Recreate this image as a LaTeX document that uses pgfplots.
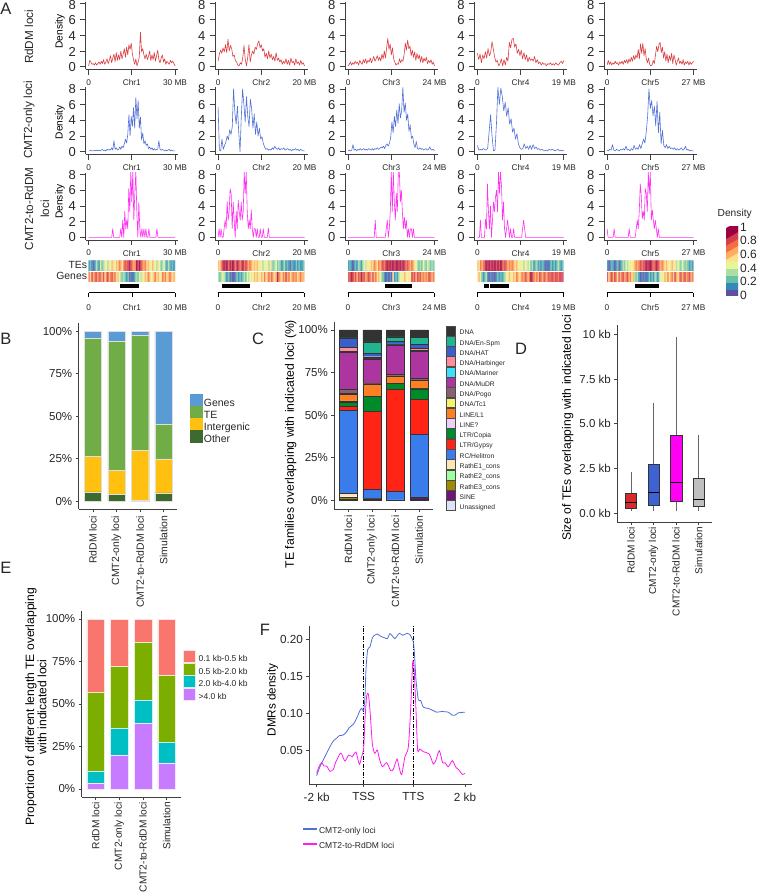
\documentclass[border=0pt]{standalone}
\usepackage{fontspec}
\setmainfont{Liberation Sans}
\usepackage{pgfplots}
\usepackage{pgfplotstable}
\pgfplotsset{compat=1.18}
\usepgfplotslibrary{statistics}

\newcommand\fs[1]{\fontsize{#1}{#1}\selectfont}
\definecolor{tx}{HTML}{262626}
\definecolor{rdm}{HTML}{D62A2F}
\definecolor{cmt}{HTML}{3F62D2}
\definecolor{mag}{HTML}{FF1CF0}
\definecolor{magb}{HTML}{FF00F4}
\definecolor{cmtl}{HTML}{4F70D8}
% panel B
\definecolor{cSky}{HTML}{5B9BD5}\definecolor{cGrn}{HTML}{70AD47}\definecolor{cYel}{HTML}{FFC00F}\definecolor{cBlueG}{HTML}{3F6A2F}
% panel C
\definecolor{cDNA}{HTML}{333333}\definecolor{cEn}{HTML}{1FB58F}\definecolor{cHAT}{HTML}{3A5FCD}
\definecolor{cHarb}{HTML}{FF8C9B}\definecolor{cMar}{HTML}{3BDFFF}\definecolor{cMu}{HTML}{AD35A0}
\definecolor{cPogo}{HTML}{8B5F73}\definecolor{cTc}{HTML}{F5F56B}\definecolor{cL}{HTML}{FF7F24}
\definecolor{cLq}{HTML}{EED2F5}\definecolor{cCop}{HTML}{008B2B}\definecolor{cGyp}{HTML}{FF2416}
\definecolor{cHel}{HTML}{3A7CEC}\definecolor{cE1}{HTML}{FFE4B5}\definecolor{cE2}{HTML}{9EFF9E}
\definecolor{cE3}{HTML}{9C8B00}\definecolor{cSine}{HTML}{6F1576}\definecolor{cUn}{HTML}{DDE4F5}
% panel E
\definecolor{eA}{HTML}{F8766D}\definecolor{eB}{HTML}{7CAE00}\definecolor{eC}{HTML}{00BFC4}\definecolor{eD}{HTML}{C77CFF}

\pgfplotsset{
  colormap={spec}{rgb255=(94,79,162) rgb255=(50,136,189) rgb255=(102,194,165) rgb255=(171,221,164)
    rgb255=(230,245,152) rgb255=(254,224,139) rgb255=(253,174,97) rgb255=(244,109,67)
    rgb255=(213,62,79) rgb255=(158,1,66)},
  pos/.style 2 args={at={(#1pt,893pt-#2pt)},anchor=south west},
  base/.style={scale only axis,axis lines=left,axis line style={-,black!75,line width=.8pt},
    tick align=outside,tick style={black!75,line width=.7pt},major tick length=3pt,
    /pgf/number format/assume math mode=true,
    tick label style={text=tx},label style={text=tx},
    ylabel near ticks},
  ylab/.style 2 args={every axis y label/.style={at={(axis description cs:#1,#2)},rotate=90,anchor=center,align=center}},
  cats/.style={xtick={0,1,2,3},xticklabels={RdDM loci,CMT2-only loci,CMT2-to-RdDM loci,Simulation},
    xticklabel style={rotate=90,anchor=east,font=\fs{10.4}},yticklabel style={font=\fs{11.5}}},
  lgd/.style 2 args={legend style={at={(axis description cs:#1,#2)},anchor=north west,draw=none,fill=none,
    inner sep=0pt,outer sep=0pt,row sep=0pt,column sep=1.5pt},legend cell align=left},
}
% one swatch of a legend: fill, edge, width, height, text (\swc centres it on the text)
\newcommand\sw[5]{\addlegendimage{legend image code/.code={
  \path[fill=#1,draw=#2,line width=.4pt] (0pt,-#4/2*1pt+\swc pt) rectangle (#3pt,#4/2*1pt+\swc pt);}}
  \addlegendentry{#5}}

% density track: left x, bottom y, chromosome, end label, colour, y-label options, values
\newcommand\track[7]{%
  \pgfplotstableread[row sep=\\,header=false]{#7}\tbl
  \pgfplotstablegetrowsof{\tbl}\edef\nn{\pgfplotsretval}%
  \begin{axis}[base,pos={#1}{#2},width=92.5pt,height=67pt,xmin=-3.1,xmax=89.4,ymin=-.33,ymax=8.2,
    major tick length=5.5pt,
    ytick={0,2,4,6,8},xtick={0,43.2,86.4},xticklabels={0,#3,#4},
    yticklabel style={font=\fs{13},inner sep=0pt,xshift=-4pt},
    xticklabel style={font=\fs{8.3},inner sep=1.5pt,yshift=-2.9pt},#6]
  \addplot[#5,line width=.6pt,line join=round,opacity=.9] table[x expr=\coordindex*86.4/(\nn-1),y index=0]{\tbl};
  \end{axis}}

% chromosome strip: left x, values for TEs then genes
\newcommand\strip[2]{%
  \pgfplotstableread[row sep=\\,header=false]{#2}\tbl
  \pgfplotstablegetrowsof{\tbl}\pgfmathtruncatemacro\cc{\pgfplotsretval/2}%
  \begin{axis}[pos={#1}{281.7},scale only axis,hide axis,width=86.4pt,height=21pt,
    xmin=-.5,xmax=\cc-.5,ymin=-.5,ymax=1.5,colormap name=spec,point meta min=0,point meta max=9]
  \addplot[matrix plot*,mesh/cols=\cc,point meta=explicit,opacity=.8]
    table[y index=0,x expr={mod(\coordindex,\cc)},y expr={1-floor(\coordindex/\cc)},meta index=0]{\tbl};
  \addplot[white,line width=.7pt] coordinates {(-1,.5)(1000,.5)};
  \end{axis}}

% scale under a strip with the black pericentromere bars: left x, length, chromosome, end label, bars
\newcommand\scalebar[5]{%
  \pgfmathsetmacro\midp{#2/2}%
  \begin{axis}[pos={#1}{292.7},scale only axis,width=86.4pt,height=7pt,clip=false,
    axis x line=bottom,axis y line=none,axis line style={-,black,line width=.7pt},
    xmin=0,xmax=#2,ymin=0,ymax=1,tick align=outside,major tick length=4.5pt,
    tick style={black,line width=.7pt},xtick={0,\midp,#2},xticklabels={0,#3,#4},
    xticklabel style={font=\fs{8.3},text=tx,inner sep=1.5pt,yshift=-6pt}]
  #5
  \end{axis}}
\newcommand\bbar[2]{\addplot[black,line width=4pt] coordinates {(#1,.9)(#2,.9)};}

\newcommand\txt[5]{\node[rotate=#3,font=\fs{#4},inner sep=0pt,align=center,text=tx] at (#1pt,893pt-#2pt) {#5};}

\begin{document}
\begin{tikzpicture}
\useasboundingbox (0,0) rectangle (756pt,893pt);

% ---------- A
\txt{6}{8.5}{0}{16.5}{A}
\txt{29}{37}{90}{11.7}{RdDM loci}
\txt{29}{120}{90}{11.7}{CMT2-only loci}
\txt{29}{209}{90}{11.7}{CMT2-to-RdDM}
\txt{45}{209}{90}{11.7}{loci}

\track{85.5}{69.3}{Chr1}{30 MB}{rdm}{ylabel={Density},ylab={-.276}{.563},label style={font=\fs{10.2}},yticklabel style={yshift=-.8pt}}{.1\\.8\\.6\\.3\\.4\\.2\\.5\\.2\\.4\\.6\\.3\\.7\\.4\\.9\\.3\\.6\\1.0\\.4\\.8\\1.4\\.5\\1.1\\1.6\\.6\\1.8\\.8\\1.5\\.9\\2.0\\1.0\\1.6\\2.3\\1.2\\2.5\\1.5\\2.8\\2.2\\3.0\\1.6\\.9\\.3\\1.0\\.1\\.6\\1.2\\4.4\\1.9\\2.3\\1.5\\1.0\\1.6\\.9\\1.3\\2.0\\.8\\1.5\\.9\\1.8\\.7\\1.4\\2.1\\.9\\.5\\1.1\\1.5\\.6\\1.0\\.3\\.7\\.5\\.3\\.8\\.5\\.7\\.4\\.1\\}
\track{215}{69.3}{Chr2}{20 MB}{rdm}{yticklabel style={yshift=-.8pt}}{.7\\1.6\\2.1\\1.7\\2.4\\1.9\\2.8\\1.8\\3.5\\2.0\\2.7\\2.3\\1.3\\1.5\\.8\\.6\\.2\\.1\\.5\\.3\\1.2\\2.7\\.9\\.1\\1.2\\2.8\\.6\\1.5\\2.0\\1.6\\2.5\\2.2\\2.9\\3.3\\2.4\\2.8\\2.0\\2.3\\1.2\\1.7\\1.0\\2.0\\1.1\\1.6\\.9\\1.3\\.7\\1.8\\.8\\1.1\\.6\\.9\\.3\\.7\\.4\\1.0\\.3\\.8\\.2\\1.1\\.5\\.7\\.2\\1.0\\.4\\.6\\.2\\.8\\.3\\.5\\.1\\}
\track{345}{69.3}{Chr3}{24 MB}{rdm}{yticklabel style={yshift=-.8pt}}{.1\\.3\\.6\\.2\\.5\\.3\\.7\\.4\\.6\\.2\\.8\\.5\\.3\\.9\\.5\\1.0\\.4\\.8\\.6\\1.1\\.5\\.9\\1.3\\.7\\1.0\\1.4\\.8\\1.2\\.7\\1.6\\1.0\\2.0\\1.1\\2.4\\3.6\\2.2\\2.9\\1.5\\2.4\\1.0\\.6\\.2\\.4\\.3\\1.0\\.5\\.9\\.7\\1.6\\3.0\\2.1\\3.4\\2.3\\2.6\\1.4\\2.1\\1.2\\1.9\\.8\\1.7\\1.0\\1.5\\.6\\1.3\\.5\\1.1\\.7\\1.2\\.4\\.8\\.5\\.9\\.3\\.6\\.1\\}
\track{474.3}{69.3}{Chr4}{19 MB}{rdm}{yticklabel style={yshift=-.8pt}}{1.7\\.9\\1.6\\.5\\1.5\\1.0\\1.9\\1.1\\2.3\\1.4\\1.8\\3.2\\2.2\\1.2\\.6\\.8\\.1\\.4\\1.0\\.1\\.9\\.2\\1.2\\.7\\3.1\\2.4\\3.5\\3.6\\2.5\\2.9\\1.7\\2.2\\1.4\\2.1\\1.0\\1.8\\.9\\1.5\\.6\\1.2\\.8\\1.0\\.7\\1.3\\.5\\.9\\.4\\.6\\.2\\.5\\.3\\.4\\.1\\.4\\.3\\.5\\.2\\.4\\.2\\.5\\.3\\.2\\.5\\.7\\.4\\.8\\}
\track{604}{69.3}{Chr5}{27 MB}{rdm}{yticklabel style={yshift=-.8pt}}{.2\\.8\\.3\\.6\\.2\\.5\\.3\\.7\\.4\\.5\\.2\\.6\\.4\\.7\\.3\\.8\\.5\\.9\\.4\\1.0\\.6\\1.2\\.7\\1.4\\.9\\1.5\\1.1\\2.2\\1.0\\2.9\\1.7\\3.0\\1.4\\2.3\\1.0\\.5\\1.1\\.3\\.1\\.2\\.8\\.4\\1.5\\2.6\\1.9\\2.8\\3.1\\1.8\\2.5\\1.1\\1.9\\.7\\1.6\\.5\\1.4\\.8\\1.7\\.4\\1.5\\.9\\.2\\.7\\1.1\\.4\\.7\\.3\\.9\\.2\\.6\\.4\\.7\\.2\\.6\\.3\\.5\\.7\\}

\track{85.5}{154.3}{Chr1}{30 MB}{cmt}{ylabel={Density},ylab={-.276}{.48},label style={font=\fs{10.2}}}{.1\\.1\\.2\\.1\\.1\\.2\\.1\\.2\\.1\\.2\\.1\\.2\\.3\\.1\\.2\\.1\\.3\\.2\\.3\\.2\\.5\\.2\\1.4\\.3\\.5\\.2\\.3\\.6\\.3\\.7\\.5\\1.0\\1.6\\1.1\\2.2\\4.7\\2.0\\4.5\\3.2\\5.6\\3.0\\6.9\\4.2\\6.5\\3.0\\4.4\\1.5\\2.4\\1.0\\1.4\\.8\\1.0\\.4\\.6\\.3\\.5\\.2\\.4\\.2\\.3\\.3\\1.4\\.3\\.2\\.3\\.2\\.1\\.2\\.1\\.2\\.3\\.1\\.2\\.1\\.1\\.1\\}
\track{215}{154.3}{Chr2}{20 MB}{cmt}{}{5.7\\.2\\.1\\1.6\\.3\\.8\\1.2\\2.0\\1.5\\2.8\\2.2\\3.2\\8.0\\5.0\\3.5\\5.8\\2.5\\0\\4.5\\8.0\\6.0\\3.8\\7.0\\4.5\\3.2\\6.7\\5.5\\3.0\\4.8\\2.2\\3.8\\2.0\\3.0\\1.6\\1.9\\1.1\\.6\\.3\\.4\\.2\\.3\\.2\\.5\\.3\\.7\\.4\\.3\\.5\\.2\\.4\\.3\\.5\\.2\\.3\\.4\\.2\\.3\\.1\\.3\\.2\\.4\\.2\\.3\\.1\\.3\\.2\\.1\\.1\\}
\track{345}{154.3}{Chr3}{24 MB}{cmt}{}{.1\\.2\\.1\\.2\\.9\\.2\\.3\\.1\\.3\\.2\\.4\\.2\\.3\\.4\\.2\\.3\\.2\\.4\\.3\\.2\\.4\\.2\\.4\\.3\\.5\\.3\\.4\\.6\\.5\\.7\\.4\\.8\\1.0\\.7\\1.1\\1.8\\3.8\\2.4\\4.5\\3.2\\5.3\\3.6\\6.1\\4.3\\5.2\\8.2\\5.0\\6.2\\4.0\\4.8\\2.6\\3.4\\1.7\\2.0\\1.0\\.5\\1.3\\.4\\.3\\.5\\.3\\.4\\.2\\.3\\.4\\.2\\.3\\.6\\.3\\.2\\.3\\.1\\}
\track{474.3}{154.3}{Chr4}{19 MB}{cmt}{}{.8\\.2\\.3\\.2\\.4\\.3\\.2\\.4\\2.5\\4.7\\2.0\\.1\\.2\\3.5\\8.2\\6.0\\8.1\\7.0\\5.2\\6.3\\4.5\\5.6\\3.5\\4.2\\2.5\\3.0\\1.6\\2.3\\1.0\\.5\\.3\\.4\\1.0\\.4\\.7\\.3\\.8\\.3\\.9\\.4\\.6\\.3\\.4\\.2\\.3\\.2\\.1\\.2\\.1\\.3\\.2\\.3\\.2\\.1\\.2\\.3\\.1\\.2\\.1\\.2\\}
\track{604}{154.3}{Chr5}{27 MB}{cmt}{}{.2\\.1\\.3\\.2\\.9\\.2\\.1\\.3\\.2\\.1\\.3\\.2\\.4\\.2\\.7\\.2\\.3\\.1\\.4\\.2\\.8\\.3\\.5\\.3\\.9\\.4\\1.0\\1.6\\1.1\\2.5\\4.5\\8.0\\5.5\\6.5\\4.6\\5.8\\3.3\\6.4\\2.4\\5.0\\1.0\\2.7\\.8\\.5\\.9\\.4\\.7\\.4\\.5\\.3\\.5\\.2\\.4\\.2\\.3\\.5\\.2\\.3\\.7\\.2\\.3\\.1\\.2\\.1\\.1\\}

\track{85.5}{240}{Chr1}{30 MB}{mag}{ylabel={Density},ylab={-.276}{.57},label style={font=\fs{10.2}}}{0\\0\\0\\0\\0\\0\\0\\0\\0\\0\\0\\0\\0\\0\\0\\0\\0\\0\\0\\0\\0\\0\\0\\0\\1.1\\0\\0\\0\\0\\0\\0\\0\\1.1\\0\\2.2\\0\\3.3\\1.1\\2.2\\1.1\\6.2\\3.3\\8.4\\4.5\\8.4\\2.2\\5.6\\8.4\\3.3\\0\\4.5\\1.1\\0\\1.1\\0\\1.1\\0\\1.1\\0\\0\\1.1\\0\\0\\0\\0\\0\\0\\0\\1.1\\0\\0\\0\\0\\0\\0\\0\\0\\0\\0\\0\\0\\0\\0\\0\\0\\0\\0\\}
\track{215}{240}{Chr2}{20 MB}{mag}{}{0\\1.1\\0\\1.1\\0\\0\\1.1\\2.2\\1.1\\4.6\\2.2\\3.3\\6.2\\5.6\\1.1\\4.5\\2.2\\0\\3.3\\1.1\\4.7\\3.3\\2.2\\4.5\\2.2\\3.3\\8.3\\5.6\\8.3\\3.3\\1.1\\2.2\\1.1\\3.5\\1.1\\0\\1.1\\1.1\\0\\1.1\\0\\0\\1.1\\0\\0\\1.1\\0\\0\\0\\0\\1.2\\0\\0\\0\\0\\0\\0\\0\\0\\0\\0\\0\\0\\0\\0\\0\\0\\0\\0\\0\\0\\0\\0\\0\\0\\0\\0\\0\\0\\0\\0\\0\\0\\0\\0\\0\\0\\}
\track{345}{240}{Chr3}{24 MB}{mag}{}{0\\0\\0\\0\\0\\0\\0\\0\\0\\0\\0\\0\\0\\0\\0\\0\\0\\0\\0\\0\\0\\0\\0\\0\\0\\0\\0\\2.2\\0\\0\\0\\0\\0\\0\\0\\0\\0\\0\\1.1\\2.2\\0\\1.1\\3.3\\8.4\\3.3\\8.4\\4.5\\2.2\\5.6\\3.3\\8.4\\8.4\\4.5\\6.0\\3.3\\1.1\\2.6\\1.1\\2.2\\0\\1.1\\0\\1.1\\1.1\\0\\1.1\\0\\0\\0\\0\\0\\0\\0\\0\\0\\0\\0\\0\\0\\0\\0\\0\\0\\0\\0\\0\\0\\}
\track{474.3}{240}{Chr4}{19 MB}{mag}{}{0\\0\\0\\2.2\\0\\0\\0\\0\\2.3\\1.1\\6.8\\3.3\\1.1\\4.0\\0\\2.2\\4.5\\3.3\\5.1\\6.0\\3.3\\8.3\\5.6\\8.3\\6.5\\2.2\\4.5\\1.1\\0\\1.1\\2.2\\1.1\\0\\1.1\\0\\0\\1.1\\0\\0\\0\\0\\0\\0\\0\\0\\1.1\\2.2\\1.1\\0\\0\\0\\0\\0\\0\\0\\0\\0\\0\\0\\0\\0\\0\\0\\0\\0\\0\\0\\0\\0\\0\\0\\0\\0\\0\\0\\0\\0\\0\\0\\0\\0\\0\\0\\0\\0\\0\\0\\}
\track{604}{240}{Chr5}{27 MB}{mag}{}{1.1\\0\\0\\0\\0\\0\\0\\1.1\\0\\0\\0\\0\\0\\0\\0\\0\\0\\0\\0\\0\\0\\0\\1.1\\0\\0\\0\\0\\0\\0\\1.1\\2.2\\1.1\\3.3\\6.8\\5.3\\2.4\\3.3\\2.2\\6.2\\5.6\\3.3\\8.3\\5.6\\8.3\\2.2\\3.5\\2.2\\1.1\\2.2\\1.1\\0\\1.1\\0\\0\\0\\0\\0\\0\\0\\0\\0\\0\\0\\0\\0\\0\\0\\0\\0\\0\\0\\0\\0\\0\\0\\0\\0\\0\\0\\0\\0\\0\\0\\0\\0\\0\\0\\}

\txt{87}{265}{0}{10.4}{\makebox[0pt][r]{TEs}}
\txt{87}{275.7}{0}{10.4}{\makebox[0pt][r]{Genes}}

\strip{88.7}{1\\2\\1\\0\\1\\3\\2\\1\\4\\2\\3\\5\\4\\3\\5\\4\\6\\5\\4\\6\\5\\7\\6\\5\\7\\8\\7\\8\\9\\8\\7\\6\\7\\9\\8\\9\\8\\7\\6\\7\\5\\6\\5\\4\\6\\5\\4\\3\\5\\4\\2\\3\\4\\2\\1\\3\\2\\1\\2\\1\\7\\5\\8\\6\\7\\8\\6\\8\\7\\6\\8\\5\\7\\8\\6\\7\\8\\6\\7\\5\\6\\4\\3\\2\\3\\2\\1\\2\\0\\1\\0\\1\\2\\3\\2\\4\\3\\5\\4\\6\\5\\7\\6\\4\\5\\6\\7\\5\\6\\4\\5\\7\\6\\7\\5\\6\\7\\6\\5\\6\\}
\strip{218}{6\\5\\7\\8\\9\\8\\9\\7\\9\\8\\9\\8\\7\\9\\8\\7\\8\\9\\7\\8\\7\\6\\7\\6\\5\\6\\5\\6\\4\\5\\4\\3\\4\\5\\4\\3\\5\\3\\2\\3\\4\\2\\3\\2\\1\\2\\3\\1\\2\\1\\0\\2\\1\\1\\2\\1\\2\\1\\1\\2\\3\\2\\3\\4\\3\\2\\1\\2\\0\\1\\0\\0\\1\\2\\1\\2\\1\\2\\3\\2\\4\\3\\4\\5\\4\\6\\5\\6\\4\\5\\6\\5\\7\\5\\6\\7\\6\\8\\6\\5\\6\\9\\7\\6\\5\\7\\6\\8\\6\\7\\5\\6\\7\\6\\7\\5\\6\\7\\6\\6\\}
\strip{348}{1\\2\\1\\0\\1\\2\\1\\3\\2\\1\\3\\4\\3\\5\\4\\5\\6\\5\\7\\6\\5\\7\\6\\7\\8\\7\\8\\9\\8\\9\\8\\9\\8\\9\\9\\8\\9\\8\\9\\8\\7\\8\\7\\6\\7\\6\\5\\4\\3\\2\\3\\2\\4\\3\\2\\4\\3\\2\\3\\2\\8\\7\\9\\8\\7\\8\\6\\8\\7\\9\\7\\8\\6\\7\\8\\7\\6\\8\\6\\7\\5\\6\\4\\3\\2\\1\\0\\1\\0\\1\\0\\5\\1\\2\\1\\3\\4\\5\\4\\6\\5\\4\\5\\4\\8\\7\\8\\6\\8\\7\\8\\6\\7\\6\\7\\6\\8\\7\\6\\7\\}
\strip{477.3}{6\\5\\7\\6\\7\\8\\9\\8\\9\\8\\9\\8\\9\\8\\9\\8\\9\\8\\7\\8\\7\\6\\7\\6\\7\\6\\5\\6\\5\\4\\5\\4\\3\\4\\5\\3\\4\\2\\3\\1\\2\\3\\1\\2\\1\\2\\1\\0\\1\\0\\1\\2\\1\\2\\1\\2\\3\\2\\1\\2\\5\\6\\4\\2\\1\\2\\3\\1\\0\\1\\0\\1\\0\\1\\2\\1\\2\\1\\2\\3\\4\\5\\6\\4\\5\\6\\5\\7\\6\\5\\6\\7\\6\\8\\7\\6\\7\\9\\8\\7\\6\\7\\6\\8\\7\\6\\8\\7\\6\\8\\7\\8\\8\\7\\8\\8\\7\\8\\8\\8\\}
\strip{607}{1\\0\\1\\2\\1\\0\\1\\2\\0\\1\\2\\3\\2\\4\\3\\4\\5\\4\\5\\6\\7\\6\\7\\8\\7\\8\\8\\9\\8\\9\\9\\8\\7\\8\\9\\8\\7\\6\\7\\6\\5\\6\\5\\4\\5\\6\\4\\5\\3\\4\\3\\2\\4\\3\\2\\3\\2\\1\\2\\1\\8\\5\\7\\8\\6\\8\\7\\5\\8\\6\\7\\8\\6\\7\\8\\6\\7\\5\\6\\3\\2\\3\\1\\0\\1\\0\\1\\0\\1\\2\\1\\2\\1\\3\\2\\1\\3\\4\\5\\4\\6\\5\\7\\5\\6\\7\\5\\8\\6\\5\\7\\8\\6\\7\\8\\6\\7\\8\\6\\7\\}

\scalebar{88.7}{30}{Chr1}{30 MB}{\bbar{10.9}{17.6}}
\scalebar{218}{20}{Chr2}{20 MB}{\bbar{.93}{7.5}}
\scalebar{348}{24}{Chr3}{24 MB}{\bbar{10.3}{17.9}}
\scalebar{477.3}{19}{Chr4}{19 MB}{\bbar{1.47}{2.64}\bbar{2.9}{6.9}}
\scalebar{607}{27}{Chr5}{27 MB}{\bbar{8.8}{16.3}}

% colour key of the strips
\txt{734.7}{214}{0}{10.2}{Density}
\pgfplotstableread[row sep=\\,header=false]{0\\0\\1\\1\\2\\2\\3\\3\\4\\4\\5\\5\\6\\6\\7\\7\\8\\8\\9\\9\\}\tkey
\begin{axis}[pos={726}{295.7},scale only axis,width=12pt,height=69pt,xmin=-.5,xmax=1.5,ymin=-.5,ymax=9.5,
  axis line style={draw=none},tick style={draw=none},xtick=\empty,ytick={-.4,1.53,3.5,5.5,7.5,9.35},
  yticklabels={0,0.2,0.4,0.6,0.8,1},yticklabel pos=right,
  yticklabel style={font=\fs{12},anchor=west,inner sep=0pt,xshift=2pt,text=tx},
  colormap name=spec,point meta min=0,point meta max=9]
\addplot[matrix plot*,mesh/cols=2,point meta=explicit] table[y index=0,x expr={mod(\coordindex,2)},y expr={floor(\coordindex/2)},meta index=0]{\tkey};
\end{axis}

% ---------- B
\txt{6}{339}{0}{16.5}{B}
\pgfplotstableread{
x Other Inter TE Genes
0 5.5 21.0 69.7 3.8
1 3.9 14.3 76.1 5.7
2 0.7 29.2 67.7 2.4
3 5.0 19.9 20.7 54.4
}\tB
\def\swc{3.5}
\begin{axis}[base,cats,pos={78.7}{509.3},width=98.3pt,height=186.3pt,xmin=-.607,xmax=3.567,ymin=-4.7,ymax=104.9,
  ytick={0,25,50,75,100},yticklabels={0\%,25\%,50\%,75\%,100\%},ybar stacked,bar width=17.3pt,lgd={1.132}{.619},
  legend style={font=\fs{10.5},row sep=-2.1pt,nodes={inner sep=0pt,text=tx}}]
\addplot[fill=cBlueG,draw=white!75!gray,line width=.4pt,forget plot] table[x=x,y=Other]{\tB};
\addplot[fill=cYel,draw=white!75!gray,line width=.4pt,forget plot] table[x=x,y=Inter]{\tB};
\addplot[fill=cGrn,draw=white!75!gray,line width=.4pt,forget plot] table[x=x,y=TE]{\tB};
\addplot[fill=cSky,draw=white!75!gray,line width=.4pt,forget plot] table[x=x,y=Genes]{\tB};
\sw{cSky}{cSky}{12}{12}{Genes}
\sw{cGrn}{cGrn}{12}{12}{TE}
\sw{cYel}{cYel}{12}{12}{Intergenic}
\sw{cBlueG}{cBlueG}{12}{12}{Other}
\end{axis}

% ---------- C
\txt{258}{339}{0}{16.5}{C}
\pgfplotstableread{
x Un Sine E3 E2 E1 Hel Gyp Cop Lq L Tc Pogo Mu Mar Harb HAT En DNA
0 .1 .3 1.5 .2 2.0 48.7 2.2 2.7 .6 3.9 .5 2.3 21.9 .6 2.4 5.0 .4 4.7
1 .8 .2 0 0 .2 5.4 45.8 8.5 .2 7.2 .1 .3 14.3 .5 .8 2.0 6.7 7.0
2 .2 0 0 0 0 4.9 60.1 3.5 0 4.3 0 .8 17.0 .4 .6 1.4 2.8 4.0
3 .6 1.0 .1 0 .1 36.9 20.6 6.2 .1 4.7 .1 1.4 15.7 .5 1.2 2.4 3.9 4.5
}\tC
\newcommand\stk[2]{\addplot[fill=#2,draw=black!80,line width=.4pt,forget plot] table[x=x,y=#1]{\tC};}
\def\swc{2.4}
\begin{axis}[base,cats,pos={334.3}{509},width=98.4pt,height=186.7pt,xmin=-.594,xmax=3.58,ymin=-5.1,ymax=104.5,
  ytick={0,25,50,75,100},yticklabels={0\%,25\%,50\%,75\%,100\%},ybar stacked,bar width=18pt,
  ylabel={TE families overlapping with indicated loci (\%)},ylab={-.443}{.348},label style={font=\fs{12.2}},
  lgd={1.132}{.982},legend style={font=\fs{6.7},column sep=4pt,row sep=-.4pt,nodes={inner sep=0pt,text=tx}}]
\stk{Un}{cUn}\stk{Sine}{cSine}\stk{E3}{cE3}\stk{E2}{cE2}\stk{E1}{cE1}\stk{Hel}{cHel}
\stk{Gyp}{cGyp}\stk{Cop}{cCop}\stk{Lq}{cLq}\stk{L}{cL}\stk{Tc}{cTc}\stk{Pogo}{cPogo}
\stk{Mu}{cMu}\stk{Mar}{cMar}\stk{Harb}{cHarb}\stk{HAT}{cHAT}\stk{En}{cEn}\stk{DNA}{cDNA}
\sw{cDNA}{black!70}{9.6}{9.85}{DNA}
\sw{cEn}{black!70}{9.6}{9.85}{DNA/En-Spm}
\sw{cHAT}{black!70}{9.6}{9.85}{DNA/HAT}
\sw{cHarb}{black!70}{9.6}{9.85}{DNA/Harbinger}
\sw{cMar}{black!70}{9.6}{9.85}{DNA/Mariner}
\sw{cMu}{black!70}{9.6}{9.85}{DNA/MuDR}
\sw{cPogo}{black!70}{9.6}{9.85}{DNA/Pogo}
\sw{cTc}{black!70}{9.6}{9.85}{DNA/Tc1}
\sw{cL}{black!70}{9.6}{9.85}{LINE/L1}
\sw{cLq}{black!70}{9.6}{9.85}{LINE?}
\sw{cCop}{black!70}{9.6}{9.85}{LTR/Copia}
\sw{cGyp}{black!70}{9.6}{9.85}{LTR/Gypsy}
\sw{cHel}{black!70}{9.6}{9.85}{RC/Helitron}
\sw{cE1}{black!70}{9.6}{9.85}{RathE1\_cons}
\sw{cE2}{black!70}{9.6}{9.85}{RathE2\_cons}
\sw{cE3}{black!70}{9.6}{9.85}{RathE3\_cons}
\sw{cSine}{black!70}{9.6}{9.85}{SINE}
\sw{cUn}{black!70}{9.6}{9.85}{Unassigned}
\end{axis}

% ---------- D
\txt{521}{349}{0}{16.5}{D}
\begin{axis}[base,cats,pos={617.3}{522.3},width=95pt,height=197.3pt,xmin=.392,xmax=4.605,ymin=-.52,ymax=10.54,
  xtick={1,2,3,4},ytick={0,2.5,5,7.5,10},yticklabels={0.0 kb,2.5 kb,5.0 kb,7.5 kb,10 kb},
  xticklabel style={font=\fs{10.1},inner sep=1.5pt},
  ylabel={Size of TEs overlapping with indicated loci},ylab={-.522}{.478},label style={font=\fs{12.1}},
  boxplot/draw direction=y,boxplot/box extend=.51,boxplot/whisker extend=0,
  boxplot/every whisker/.style={draw=black!60,line width=.8pt},
  boxplot/every median/.style={draw=black,line width=1.1pt},
  boxplot/every box/.style={draw=black!80,line width=.6pt}]
\addplot[draw=black!80,fill=rdm,mark=none,boxplot prepared={draw position=1,lower whisker=.1,lower quartile=.26,median=.6,upper quartile=1.1,upper whisker=2.32}] coordinates {};
\addplot[draw=black!80,fill=cmt,mark=none,boxplot prepared={draw position=2,lower whisker=.1,lower quartile=.43,median=1.14,upper quartile=2.73,upper whisker=6.15}] coordinates {};
\addplot[draw=black!80,fill=magb,mark=none,boxplot prepared={draw position=3,lower whisker=.1,lower quartile=.65,median=1.7,upper quartile=4.36,upper whisker=9.89}] coordinates {};
\addplot[draw=black!80,fill=gray!50,mark=none,boxplot prepared={draw position=4,lower whisker=.1,lower quartile=.35,median=.78,upper quartile=1.96,upper whisker=4.37}] coordinates {};
\end{axis}

% ---------- E
\txt{6}{568}{0}{16.5}{E}
\pgfplotstableread{
x Big Mid Low Small
0 3.5 6.9 46.6 43.0
1 19.6 16.1 36.3 28.0
2 38.4 14.1 33.8 13.7
3 15.3 12.1 39.3 33.3
}\tE
\def\swc{3}
\begin{axis}[base,cats,pos={81.7}{797.3},width=99pt,height=186.6pt,xmin=-.59,xmax=3.59,ymin=-4.88,ymax=104.9,
  ytick={0,25,50,75,100},yticklabels={0\%,25\%,50\%,75\%,100\%},ybar stacked,bar width=17.7pt,
  xticklabel style={font=\fs{10.2},inner sep=1.5pt},
  ylabel={Proportion of different length TE overlapping\\with indicated loci},ylab={-.462}{.4855},label style={font=\fs{12.1}},
  lgd={1.023}{.789},legend style={font=\fs{8.5},column sep=3.5pt,row sep=-.5pt,nodes={inner sep=0pt,text=tx}}]
\addplot[fill=eD,draw=white!80!eD,line width=.5pt,forget plot] table[x=x,y=Big]{\tE};
\addplot[fill=eC,draw=white!80!eC,line width=.5pt,forget plot] table[x=x,y=Mid]{\tE};
\addplot[fill=eB,draw=white!80!eB,line width=.5pt,forget plot] table[x=x,y=Low]{\tE};
\addplot[fill=eA,draw=white!80!eA,line width=.5pt,forget plot] table[x=x,y=Small]{\tE};
\sw{eA}{white!80!eA}{11.7}{12.1}{0.1 kb-0.5 kb}
\sw{eB}{white!80!eB}{11.7}{12.1}{0.5 kb-2.0 kb}
\sw{eC}{white!80!eC}{11.7}{12.1}{2.0 kb-4.0 kb}
\sw{eD}{white!80!eD}{11.7}{12.1}{>4.0 kb}
\end{axis}

% ---------- F
\txt{265}{630}{0}{16.5}{F}
\def\swc{2.8}
\begin{axis}[base,pos={309.3}{784},width=163pt,height=158pt,xmin=118,xmax=607,ymin=.0051,ymax=.2179,
  xtick={140,281,430,585},xticklabels={-2 kb,TSS,TTS,2 kb},
  ytick={.05,.1,.15,.2},yticklabels={0.05,0.10,0.15,0.20},
  tick label style={font=\fs{11.7}},xticklabel style={yshift=-2pt},
  ylabel={DMRs density},ylab={-.2245}{.532},label style={font=\fs{11.7}},
  lgd={-.037}{-.277},legend style={font=\fs{8.5},column sep=3pt,row sep=7pt,nodes={inner sep=0pt,text=tx}}]
\addplot[black,line width=.7pt,dash pattern=on 4pt off 1.5pt on 1pt off 1.5pt,forget plot] coordinates {(281,.0051)(281,.2179)};
\addplot[black,line width=.7pt,dash pattern=on 4pt off 1.5pt on 1pt off 1.5pt,forget plot] coordinates {(430,.0051)(430,.2179)};
\addplot[cmtl,line width=.8pt,smooth,tension=.4,forget plot] coordinates {
(140,.0162)(150,.0284)(165,.0419)(180,.0554)(190,.0631)(200,.0667)(208,.0703)(218,.0707)(228,.0743)
(238,.0811)(250,.0856)(260,.0937)(270,.104)(275,.1072)(281,.1036)(285,.123)(288,.159)(293,.186)
(300,.1897)(307,.2018)(315,.2059)(322,.2072)(332,.2041)(345,.2018)(352,.2009)(360,.2077)(368,.204)
(375,.2009)(388,.2081)(398,.2054)(412,.2081)(420,.2063)(430,.1964)(434,.177)(438,.1455)(445,.1185)
(452,.1176)(460,.1086)(475,.1068)(490,.104)(500,.1018)(515,.1027)(535,.1018)(545,.0982)(555,.0977)
(565,.1009)(585,.1018)};
\addplot[mag,line width=.8pt,smooth,tension=.4,forget plot] coordinates {
(140,.0194)(147,.0284)(155,.0338)(162,.0293)(170,.0293)(180,.0221)(190,.0248)(197,.0342)(210,.0459)
(215,.0455)(225,.0360)(236,.0441)(247,.0419)(258,.0482)(268,.0315)(275,.0419)(281,.0532)(285,.0914)
(290,.1230)(295,.1266)(300,.1050)(307,.0599)(314,.0464)(322,.0509)(328,.0396)(337,.0284)(350,.0338)
(362,.0230)(370,.0248)(381,.0387)(387,.0284)(395,.0176)(405,.0419)(415,.0545)(422,.1050)(428,.1680)
(432,.1635)(438,.1050)(443,.0509)(450,.0523)(460,.0486)(478,.0455)(490,.0320)(498,.0374)(508,.0500)
(518,.0338)(525,.0338)(535,.0284)(547,.0365)(558,.0275)(567,.0239)(577,.0180)(585,.0194)};
\sw{cmtl}{cmtl}{12.4}{.8}{CMT2-only loci}
\sw{mag}{mag}{12.4}{.8}{CMT2-to-RdDM loci}
\end{axis}
\end{tikzpicture}
\end{document}
